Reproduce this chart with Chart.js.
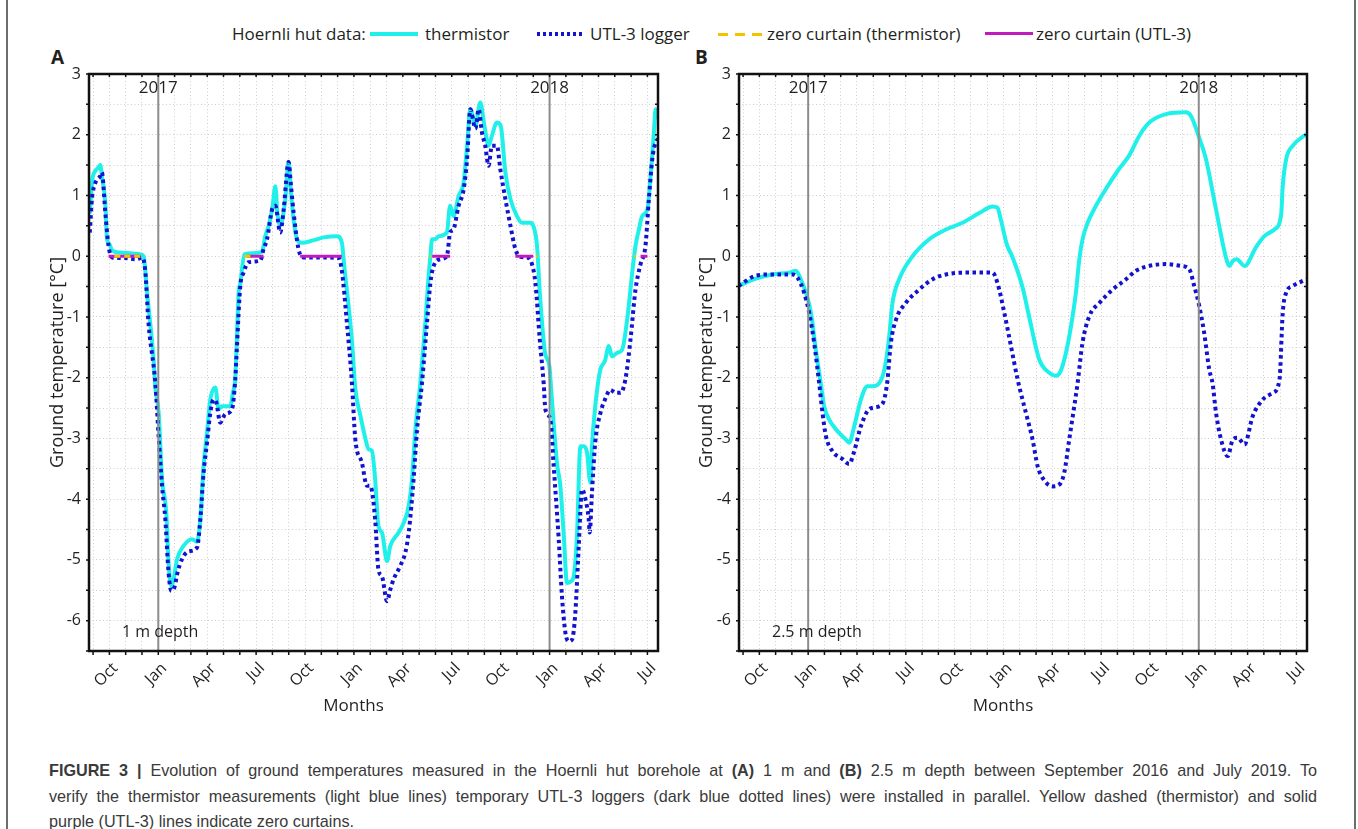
<!DOCTYPE html>
<html>
<head>
<meta charset="utf-8">
<script src="https://cdn.jsdelivr.net/npm/chart.js@4.4.1/dist/chart.umd.min.js"></script>
<style>
    body { margin: 0; background: #fff; }
    #page { position: relative; width: 1358px; height: 829px; overflow: hidden; font-family: "Open Sans", sans-serif; color: #231f20; }
    .cv { position: absolute; top: 0; }
    .lg { position: absolute; font-size: 17px; line-height: 20px; top: 24px; white-space: nowrap; }
    .sw { position: absolute; }
    .panel { position: absolute; top: 44px; font-size: 19px; font-weight: bold; }
    .frame { position: absolute; top: 0; width: 1.5px; height: 829px; background: #6d6d6d; }
    #caption { position: absolute; left: 49px; top: 758px; width: 1268px; font-family: "Liberation Sans", Arial, sans-serif; font-size: 16.2px; color: #3a3a3a; }
    #caption div { height: 25.5px; line-height: 25.5px; white-space: nowrap; }
    #caption .just { text-align: justify; text-align-last: justify; white-space: normal; }
</style>
</head>
<body>
<div id="page">
    <div class="frame" style="left:6px"></div>
    <div class="frame" style="left:1354px"></div>

    <span class="lg" style="left:232px">Hoernli hut data:</span>
    <div class="sw" style="left:370px;top:32px;width:48px;height:4px;background:#1ff0ea"></div>
    <span class="lg" style="left:425px">thermistor</span>
    <div class="sw" style="left:537px;top:32px;width:48px;height:4px;background:repeating-linear-gradient(90deg,#1212cf 0 3px,transparent 3px 6px)"></div>
    <span class="lg" style="left:590px">UTL-3 logger</span>
    <div class="sw" style="left:718px;top:33px;width:46px;height:3px;background:repeating-linear-gradient(90deg,#f2c400 0 10px,transparent 10px 17px)"></div>
    <span class="lg" style="left:767px">zero curtain (thermistor)</span>
    <div class="sw" style="left:985px;top:32px;width:48px;height:3px;background:#c21bbd"></div>
    <span class="lg" style="left:1036px">zero curtain (UTL-3)</span>

    <span class="panel" style="left:51px">A</span>
    <span class="panel" style="left:695px">B</span>

    <canvas id="chartA" class="cv" style="left:0px"></canvas>
    <canvas id="chartB" class="cv" style="left:650px"></canvas>

    <div id="caption">
        <div class="just"><b>FIGURE 3 |</b> Evolution of ground temperatures measured in the Hoernli hut borehole at <b>(A)</b> 1 m and <b>(B)</b> 2.5 m depth between September 2016 and July 2019. To</div>
        <div class="just">verify the thermistor measurements (light blue lines) temporary UTL-3 loggers (dark blue dotted lines) were installed in parallel. Yellow dashed (thermistor) and solid</div>
        <div>purple (UTL-3) lines indicate zero curtains.</div>
    </div>
</div>
<script>
// x values are months counted from Jan 2016 (12 = Jan 2017, 36 = Jan 2019)
const monthNames = { 0: 'Jan', 3: 'Apr', 6: 'Jul', 9: 'Oct' };
const yearLines = [12, 36];
const yearLabels = ['2017', '2018'];

// panel A, 1 m depth
const thermA_x = [7.8, 7.95, 8.13, 8.3, 8.44, 8.55, 8.75, 8.85, 9.0, 9.16, 9.67, 10.3, 10.9, 11.1, 11.31, 11.71, 11.82, 12.02, 12.23, 12.49, 12.63, 12.8, 12.94, 13.15, 13.55, 14.07, 14.37, 14.58, 14.78, 14.99, 15.19, 15.5, 15.7, 15.9, 16.42, 16.58, 16.72, 16.8, 16.93, 17.03, 17.28, 17.8, 18.36, 18.56, 18.77, 19.0, 19.18, 19.3, 19.48, 19.79, 19.99, 20.14, 20.3, 20.51, 20.8, 21.5, 22.14, 22.96, 23.26, 23.4, 23.88, 24.08, 24.4, 24.7, 24.9, 25.1, 25.3, 25.5, 25.72, 26.03, 26.23, 26.74, 27.05, 27.36, 27.56, 27.77, 28.07, 28.38, 28.58, 28.69, 28.79, 29.0, 29.2, 29.7, 29.9, 30.1, 30.42, 30.73, 30.94, 31.14, 31.45, 31.75, 32.0, 32.26, 32.46, 32.77, 33.0, 33.29, 33.6, 34.0, 34.3, 34.82, 35.0, 35.23, 35.4, 35.72, 35.99, 36.1, 36.45, 36.66, 36.86, 37.07, 37.32, 37.48, 37.68, 37.89, 38.1, 38.3, 38.5, 38.6, 38.8, 39.0, 39.12, 39.4, 39.63, 39.83, 40.14, 40.45, 40.76, 41.07, 41.27, 41.48, 41.68, 42.0, 42.2, 42.4, 42.5, 42.65];
const thermA_y = [0.7, 1.25, 1.4, 1.45, 1.5, 1.3, 0.88, 0.3, 0.2, 0.1, 0.06, 0.05, 0.03, 0.0, -0.6, -1.7, -2.17, -2.57, -3.67, -4.22, -5.04, -5.43, -5.32, -4.99, -4.77, -4.66, -4.7, -4.33, -3.45, -2.9, -2.36, -2.16, -2.52, -2.47, -2.47, -2.24, -2.03, -1.5, -0.6, -0.45, 0.03, 0.05, 0.07, 0.33, 0.5, 0.8, 1.15, 0.72, 0.5, 0.94, 1.55, 1.05, 0.6, 0.28, 0.22, 0.26, 0.31, 0.33, 0.22, -0.15, -1.4, -2.17, -2.63, -3.0, -3.18, -3.2, -3.67, -4.44, -4.55, -5.02, -4.77, -4.55, -4.39, -4.11, -3.67, -2.85, -2.1, -1.1, -0.33, 0.0, 0.28, 0.28, 0.33, 0.39, 0.83, 0.66, 0.99, 1.22, 1.82, 2.42, 2.15, 2.53, 2.15, 1.82, 1.98, 2.2, 2.15, 1.38, 0.94, 0.66, 0.55, 0.55, 0.5, 0.17, -0.6, -1.59, -1.81, -2.2, -3.4, -3.78, -4.55, -5.38, -5.35, -5.27, -4.6, -3.13, -3.13, -3.24, -3.73, -3.13, -2.47, -2.03, -1.86, -1.72, -1.48, -1.65, -1.59, -1.54, -1.04, -0.27, 0.17, 0.44, 0.66, 0.77, 1.33, 2.04, 2.42, 2.26];

const utlA_x = [7.8, 7.93, 8.13, 8.44, 8.54, 8.75, 8.95, 9.16, 9.9, 10.7, 11.0, 11.2, 11.4, 11.82, 12.02, 12.23, 12.43, 12.63, 12.8, 12.98, 13.18, 13.45, 13.86, 14.37, 14.58, 14.78, 14.99, 15.19, 15.39, 15.56, 15.8, 16.11, 16.52, 16.72, 16.82, 17.03, 17.23, 17.54, 18.26, 18.46, 18.67, 18.98, 19.18, 19.48, 19.69, 19.99, 20.14, 20.3, 20.6, 20.91, 22.0, 23.06, 23.26, 23.57, 23.88, 24.08, 24.49, 24.8, 25.0, 25.3, 25.5, 25.72, 26.03, 26.23, 26.43, 26.84, 27.15, 27.36, 27.66, 27.87, 28.17, 28.48, 28.69, 28.89, 29.3, 29.7, 29.9, 30.1, 30.42, 30.73, 30.94, 31.14, 31.45, 31.65, 31.85, 32.05, 32.26, 32.46, 32.77, 32.98, 33.29, 33.6, 33.9, 34.2, 34.61, 34.92, 35.13, 35.4, 35.64, 35.74, 36.05, 36.25, 36.56, 36.76, 36.97, 37.17, 37.38, 37.58, 37.79, 37.99, 38.2, 38.4, 38.46, 38.6, 38.8, 39.12, 39.4, 39.73, 40.04, 40.35, 40.65, 40.96, 41.27, 41.58, 41.88, 42.09, 42.3, 42.5, 42.65];
const utlA_y = [0.39, 0.94, 1.2, 1.32, 1.38, 0.72, 0.17, -0.02, -0.03, -0.05, -0.02, -0.24, -1.1, -2.1, -2.96, -3.78, -4.33, -5.21, -5.51, -5.46, -5.21, -4.99, -4.86, -4.8, -4.33, -3.56, -3.07, -2.58, -2.36, -2.41, -2.74, -2.6, -2.52, -2.03, -1.5, -0.49, -0.27, -0.1, -0.07, 0.12, 0.28, 0.77, 0.83, 0.39, 0.77, 1.55, 1.16, 0.72, 0.12, -0.02, -0.02, -0.03, -0.24, -1.1, -2.1, -3.0, -3.4, -3.78, -3.78, -4.33, -5.16, -5.27, -5.68, -5.49, -5.32, -5.1, -4.88, -4.55, -3.67, -2.85, -2.1, -1.1, -0.44, -0.16, -0.05, 0.0, 0.39, 0.44, 0.83, 1.1, 1.6, 2.42, 2.1, 2.42, 2.04, 1.82, 1.49, 1.82, 1.82, 1.43, 0.94, 0.5, 0.12, -0.01, -0.02, -0.13, -0.44, -1.38, -2.1, -2.52, -2.69, -3.45, -4.66, -5.6, -6.2, -6.34, -6.31, -5.87, -4.77, -3.84, -4.0, -4.33, -4.55, -3.89, -3.07, -2.58, -2.36, -2.2, -2.25, -2.25, -2.03, -1.38, -0.55, -0.13, 0.17, 0.94, 1.6, 1.87, 1.93];

// zero curtain periods (start / end month), temperature 0
const zcThermA_start = [9.3, 17.28, 28.64, 35.17, 41.17];
const zcThermA_end = [11.0, 17.9, 28.74, 35.27, 41.27];
const zcUtlA_start = [8.95, 17.45, 20.7, 28.8, 33.9, 41.58];
const zcUtlA_end = [10.9, 18.45, 23.26, 29.9, 35.0, 42.0];

// panel B, 2.5 m depth
const thermB_x = [7.72, 8.79, 9.8, 10.83, 11.24, 11.55, 11.86, 12.17, 12.47, 12.78, 12.98, 13.29, 13.8, 14.32, 14.52, 14.83, 15.24, 15.64, 15.95, 16.57, 16.94, 17.18, 17.59, 18.41, 19.44, 20.46, 21.48, 22.51, 23.33, 23.63, 23.84, 24.2, 24.56, 25.17, 25.58, 26.2, 26.81, 27.22, 27.5, 27.84, 28.15, 28.45, 28.66, 28.86, 29.17, 29.68, 30.3, 31.11, 31.73, 32.34, 32.96, 33.98, 35.21, 35.52, 35.99, 36.44, 37.06, 37.67, 37.88, 38.09, 38.33, 38.81, 39.52, 40.03, 40.65, 41.06, 41.16, 41.37, 41.78, 42.6];
const thermB_y = [-0.49, -0.37, -0.3, -0.27, -0.24, -0.38, -0.6, -0.93, -1.54, -2.1, -2.47, -2.69, -2.88, -3.02, -3.07, -2.8, -2.36, -2.14, -2.14, -1.98, -1.42, -0.77, -0.38, 0.0, 0.28, 0.44, 0.55, 0.71, 0.82, 0.8, 0.6, 0.2, -0.02, -0.51, -1.0, -1.7, -1.92, -1.97, -1.9, -1.59, -1.15, -0.6, -0.05, 0.28, 0.55, 0.83, 1.11, 1.44, 1.66, 1.98, 2.2, 2.34, 2.37, 2.31, 1.98, 1.6, 0.77, -0.02, -0.16, -0.08, -0.05, -0.16, 0.15, 0.33, 0.44, 0.68, 1.16, 1.6, 1.82, 2.01];

const utlB_x = [7.72, 8.79, 9.8, 11.03, 11.34, 11.75, 12.06, 12.37, 12.68, 12.88, 13.09, 13.49, 14.11, 14.52, 14.83, 15.24, 15.75, 16.36, 16.67, 16.87, 17.08, 17.39, 18.0, 18.82, 19.64, 20.46, 21.69, 23.33, 23.63, 24.05, 24.46, 24.87, 25.38, 25.79, 26.1, 26.4, 27.02, 27.43, 27.73, 28.04, 28.35, 28.55, 28.86, 29.27, 29.89, 30.7, 31.53, 32.14, 32.96, 33.98, 34.9, 35.41, 35.72, 36.03, 36.33, 36.64, 36.85, 37.06, 37.37, 37.78, 38.09, 38.4, 38.81, 39.32, 39.93, 40.55, 40.96, 41.16, 41.37, 41.78, 42.6];
const utlB_y = [-0.49, -0.32, -0.3, -0.3, -0.35, -0.6, -0.93, -1.43, -2.1, -2.58, -2.96, -3.21, -3.34, -3.42, -3.21, -2.8, -2.52, -2.47, -2.36, -2.05, -1.43, -1.05, -0.77, -0.55, -0.38, -0.3, -0.27, -0.27, -0.44, -0.93, -1.48, -2.03, -2.58, -3.02, -3.46, -3.65, -3.79, -3.76, -3.57, -3.02, -2.47, -2.1, -1.42, -0.99, -0.77, -0.55, -0.38, -0.24, -0.16, -0.13, -0.16, -0.21, -0.49, -0.82, -1.26, -1.86, -2.1, -2.58, -3.02, -3.29, -3.02, -2.99, -3.1, -2.63, -2.36, -2.25, -2.03, -0.93, -0.6, -0.49, -0.38];

Chart.defaults.font.family = '"Open Sans", sans-serif';
Chart.defaults.font.size = 16;
Chart.defaults.color = '#231f20';

const toPoints = (xs, ys) => xs.map((x, i) => ({ x: x, y: ys[i] }));

const toSegments = (starts, ends) => {
    const pts = [];
    starts.forEach((s, i) => {
        pts.push({ x: s, y: 0 }, { x: ends[i], y: 0 }, { x: ends[i] + 0.01, y: null });
    });
    return pts;
};

const framePlugin = {
    id: 'frame',
    afterDatasetsDraw(chart, args, opts) {
        const { ctx, chartArea: a, scales: { x, y } } = chart;
        ctx.save();
        // year lines
        ctx.strokeStyle = '#8c8c8c';
        ctx.lineWidth = 2;
        ctx.fillStyle = '#231f20';
        ctx.font = '17px "Open Sans"';
        ctx.textAlign = 'center';
        ctx.textBaseline = 'middle';
        yearLines.forEach((yl, i) => {
            const px = x.getPixelForValue(yl);
            ctx.beginPath();
            ctx.moveTo(px, a.top);
            ctx.lineTo(px, a.bottom);
            ctx.stroke();
            ctx.fillText(yearLabels[i], px, a.top + 14);
        });
        ctx.textAlign = 'left';
        ctx.font = '16px "Open Sans"';
        ctx.fillText(opts.depth, opts.depthX, a.bottom - 19);

        // axis title below, centred a little left of the plot like the original
        ctx.textAlign = 'center';
        ctx.font = '17px "Open Sans"';
        ctx.fillText('Months', (a.left + a.right) / 2 - 20, 706);

        // border and small tick marks
        ctx.strokeStyle = '#111';
        ctx.lineWidth = 1.5;
        for (let m = 8; m <= 42; m++) {
            const px = x.getPixelForValue(m);
            ctx.beginPath();
            ctx.moveTo(px, a.bottom); ctx.lineTo(px, a.bottom + 4);
            ctx.moveTo(px, a.top); ctx.lineTo(px, a.top + 3);
            ctx.stroke();
        }
        for (let v = -6.5; v <= 3; v += 0.5) {
            const py = y.getPixelForValue(v);
            ctx.beginPath();
            ctx.moveTo(a.left - 3, py); ctx.lineTo(a.left, py);
            ctx.moveTo(a.right - 3, py); ctx.lineTo(a.right, py);
            ctx.stroke();
        }
        ctx.lineWidth = 2.5;
        ctx.strokeRect(a.left, a.top, a.right - a.left, a.bottom - a.top);
        ctx.restore();
    }
};

function makeChart(el, therm, utl, zcTherm, zcUtl, depth, depthX, rightPad, titlePad) {
    return new Chart(el, { // eslint-disable-line
        type: 'line',
        data: {
            datasets: [
                {
                    label: 'zero curtain (thermistor)',
                    data: zcTherm,
                    borderColor: '#f2c400',
                    borderWidth: 3,
                    borderDash: [6, 4],
                    pointRadius: 0,
                    spanGaps: false,
                    order: 0
                },
                {
                    label: 'zero curtain (UTL-3)',
                    data: zcUtl,
                    borderColor: '#c21bbd',
                    borderWidth: 3,
                    pointRadius: 0,
                    spanGaps: false,
                    order: 1
                },
                {
                    label: 'UTL-3 logger',
                    data: utl,
                    borderColor: '#1212cf',
                    borderWidth: 4,
                    borderDash: [3.5, 3.5],
                    pointRadius: 0,
                    cubicInterpolationMode: 'monotone',
                    order: 2
                },
                {
                    label: 'thermistor',
                    data: therm,
                    borderColor: '#1ff0ea',
                    borderWidth: 4,
                    pointRadius: 0,
                    cubicInterpolationMode: 'monotone',
                    order: 3
                }
            ]
        },
        options: {
            responsive: false,
            animation: false,
            layout: { padding: { top: 74, right: rightPad, left: 0, bottom: 0 } },
            plugins: {
                legend: { display: false },
                tooltip: { enabled: false },
                frame: { depth: depth, depthX: depthX }
            },
            scales: {
                x: {
                    type: 'linear',
                    min: 7.75,
                    max: 42.65,
                    afterFit: s => { s.height = 69; },
                    grid: { color: '#cfcfcf', lineWidth: 1, drawTicks: false },
                    border: { display: false, dash: [1, 2.5] },
                    ticks: {
                        stepSize: 1,
                        includeBounds: false,
                        autoSkip: false,
                        minRotation: 45,
                        maxRotation: 45,
                        padding: 8,
                        labelOffset: 6,
                        callback: v => (Number.isInteger(v) && v % 3 === 0) ? monthNames[v % 12] : ''
                    }
                },
                y: {
                    min: -6.5,
                    max: 3,
                    afterFit: s => { s.width = 89; },
                    grid: { color: '#cfcfcf', lineWidth: 1, drawTicks: false },
                    border: { display: false, dash: [1, 2.5] },
                    ticks: {
                        stepSize: 0.5,
                        padding: 8,
                        callback: v => Number.isInteger(v) ? String(v) : ''
                    },
                    title: {
                        display: true,
                        text: 'Ground temperature [°C]',
                        font: { size: 18 },
                        padding: { top: titlePad, bottom: 0 }
                    }
                }
            }
        },
        plugins: [framePlugin]
    });
}

const elA = document.getElementById('chartA');
elA.width = 680; elA.height = 720;
const elB = document.getElementById('chartB');
elB.width = 680; elB.height = 720;

makeChart(elA, toPoints(thermA_x, thermA_y), toPoints(utlA_x, utlA_y),
    toSegments(zcThermA_start, zcThermA_end), toSegments(zcUtlA_start, zcUtlA_end),
    '1 m depth', 122, 22, 47);
makeChart(elB, toPoints(thermB_x, thermB_y), toPoints(utlB_x, utlB_y),
    [], [], '2.5 m depth', 122, 23, 46);
</script>
</body>
</html>
